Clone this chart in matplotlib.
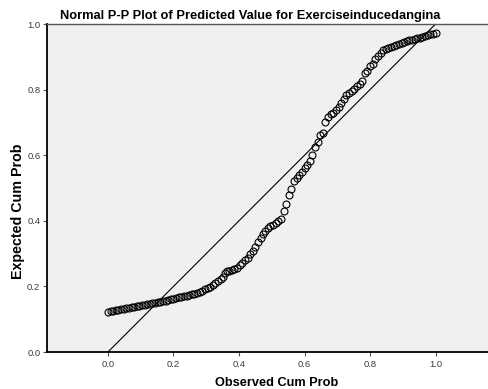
import matplotlib
matplotlib.use("Agg")
import matplotlib.pyplot as plt

observed = [0.000, 0.008, 0.016, 0.024, 0.032, 0.040, 0.048, 0.056, 0.064, 0.072,
            0.080, 0.088, 0.096, 0.104, 0.112, 0.120, 0.128, 0.136, 0.144, 0.152,
            0.160, 0.168, 0.176, 0.184, 0.192, 0.200, 0.208, 0.216, 0.224, 0.232,
            0.240, 0.248, 0.256, 0.264, 0.272, 0.280, 0.288, 0.296, 0.304, 0.312,
            0.320, 0.328, 0.336, 0.344, 0.352, 0.356, 0.362, 0.370, 0.378, 0.386,
            0.394, 0.402, 0.410, 0.418, 0.426, 0.434, 0.442, 0.450, 0.458, 0.466,
            0.474, 0.480, 0.488, 0.496, 0.504, 0.512, 0.520, 0.528, 0.536, 0.544,
            0.552, 0.560, 0.568, 0.576, 0.584, 0.592, 0.600, 0.608, 0.616, 0.624,
            0.632, 0.640, 0.648, 0.656, 0.664, 0.672, 0.680, 0.688, 0.696, 0.704,
            0.712, 0.720, 0.728, 0.736, 0.744, 0.752, 0.760, 0.768, 0.776, 0.784,
            0.792, 0.800, 0.808, 0.816, 0.824, 0.832, 0.840, 0.848, 0.856, 0.864,
            0.872, 0.880, 0.888, 0.896, 0.904, 0.912, 0.920, 0.928, 0.936, 0.944,
            0.952, 0.960, 0.968, 0.976, 0.984, 0.992, 1.000]
expected = [0.123, 0.124, 0.126, 0.128, 0.129, 0.131, 0.132, 0.134, 0.135, 0.137,
            0.138, 0.140, 0.141, 0.143, 0.144, 0.146, 0.147, 0.149, 0.150, 0.152,
            0.153, 0.155, 0.157, 0.159, 0.161, 0.163, 0.165, 0.167, 0.169, 0.171,
            0.172, 0.174, 0.176, 0.178, 0.181, 0.184, 0.187, 0.191, 0.195, 0.199,
            0.205, 0.211, 0.217, 0.223, 0.228, 0.240, 0.246, 0.248, 0.250, 0.252,
            0.256, 0.264, 0.272, 0.279, 0.288, 0.299, 0.309, 0.320, 0.334, 0.347,
            0.360, 0.370, 0.377, 0.383, 0.388, 0.393, 0.398, 0.406, 0.430, 0.452,
            0.478, 0.497, 0.520, 0.532, 0.540, 0.550, 0.560, 0.570, 0.582, 0.600,
            0.625, 0.640, 0.662, 0.668, 0.702, 0.715, 0.726, 0.730, 0.737, 0.748,
            0.760, 0.772, 0.783, 0.790, 0.797, 0.803, 0.810, 0.817, 0.825, 0.850,
            0.856, 0.873, 0.878, 0.893, 0.902, 0.912, 0.920, 0.924, 0.927, 0.930,
            0.933, 0.936, 0.938, 0.941, 0.944, 0.947, 0.950, 0.952, 0.954, 0.956,
            0.958, 0.960, 0.963, 0.966, 0.969, 0.971, 0.972]

ref_line = [0.0, 1.0]
ticks = [0.0, 0.2, 0.4, 0.6, 0.8, 1.0]
tick_labels = ["0.0", "0.2", "0.4", "0.6", "0.8", "1.0"]

title = "Normal P-P Plot of Predicted Value for Exerciseinducedangina"
xlabel = "Observed Cum Prob"
ylabel = "Expected Cum Prob"

plt.rcParams['font.family'] = ['Liberation Sans', 'DejaVu Sans']

W, H = 488, 389
fig = plt.figure(figsize=(W / 100, H / 100), dpi=100)
fig.patch.set_facecolor('white')
ax = fig.add_axes([47 / W, 37 / H, 441 / W, 328 / H])
ax.set_facecolor('#F0F0F0')

ax.plot(ref_line, ref_line, color='black', linewidth=0.8, zorder=2)
ax.plot(observed, expected, linestyle='none', marker='o', markersize=5.0,
        markerfacecolor='none', markeredgecolor='black', markeredgewidth=0.8, zorder=3)

ax.set_xlim(-0.186, 1.160)
ax.set_ylim(0.0, 1.0)
ax.set_xticks(ticks)
ax.set_xticklabels(tick_labels)
ax.set_yticks(ticks)
ax.set_yticklabels(tick_labels)
ax.tick_params(direction='out', length=3, width=0.8, labelsize=6.8, labelcolor='#3a3a3a',
               color='#555555')
ax.tick_params(axis='x', pad=3.0)
ax.tick_params(axis='y', pad=1.8)

for s in ['left', 'bottom']:
    ax.spines[s].set_color('black')
    ax.spines[s].set_linewidth(1.3)
ax.spines['top'].set_color('#555555')
ax.spines['top'].set_linewidth(1.0)
ax.spines['right'].set_visible(False)

fig.text(250.5 / W, 1 - 18.5 / H, title, ha='center', va='baseline', fontsize=9.3,
         fontweight='bold')
fig.text(276.5 / W, 1 - 385.5 / H, xlabel, ha='center', va='baseline', fontsize=9.2,
         fontweight='bold')
fig.text(22 / W, 1 - 211.7 / H, ylabel, ha='center', va='baseline', fontsize=10.3,
         fontweight='bold', rotation=90, rotation_mode='anchor')

fig.savefig('out.png', dpi=100, facecolor='white')
